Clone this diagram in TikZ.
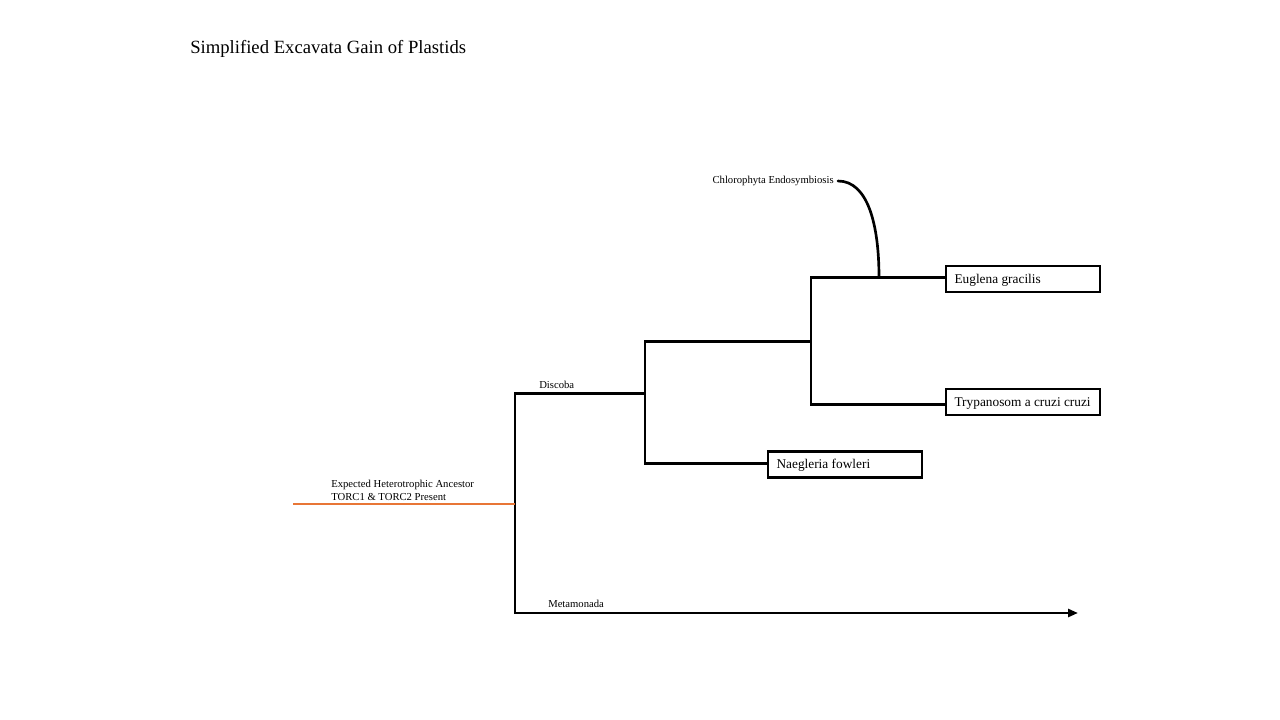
\documentclass[tikz,border=0pt]{standalone}
\usepackage{fontspec}
\setmainfont{Liberation Serif}
\usetikzlibrary{arrows.meta}
\definecolor{ancestor}{RGB}{232,118,54}
\tikzset{
  branch/.style={line width=2pt, line join=miter},
  taxon/.style={draw, line width=2pt, minimum width=115.5pt, minimum height=19.5pt, inner sep=0pt},
  taxonlabel/.style={font=\fontsize{10}{12}\selectfont, anchor=west, inner sep=0pt},
  small/.style={font=\fontsize{8}{9.75}\selectfont, inner sep=0pt},
}
\begin{document}
\begin{tikzpicture}[x=0.75pt,y=-0.75pt]
\useasboundingbox (0,0) rectangle (1280,720);
\node[font=\fontsize{14}{16}\selectfont, anchor=west, inner sep=0pt] (title) at (190,48.5) {Simplified Excavata Gain of Plastids};

% taxa boxes
\node[taxon] (eug) at (1023,279) {};
\node[taxon] (tryp) at (1023,402) {};
\node[taxon] (naeg) at (845,464.5) {};
\node[taxonlabel] (euglab) at ([xshift=7.2pt,yshift=-0.8pt]eug.west) {Euglena gracilis};
\node[taxonlabel] (tryplab) at ([xshift=7.2pt,yshift=-0.8pt]tryp.west) {Trypanosom a cruzi cruzi};
\node[taxonlabel] (naeglab) at ([xshift=7.2pt,yshift=-0.8pt]naeg.west) {Naegleria fowleri};

% junctions
\coordinate (o) at (293,504);
\coordinate (r) at (515,504);
\coordinate (rt) at (515,393.5);
\coordinate (rb) at (515,613);
\coordinate (metaend) at (1078,613);
\coordinate (d) at (645,393.5);
\coordinate (dt) at (645,341.5);
\coordinate (db) at (645,463.5);
\coordinate (c) at (811,341.5);
\coordinate (ct) at (811,277.5);
\coordinate (cb) at (811,404.5);
\coordinate (plastid) at (879,277.5);
\coordinate (chl) at (838,181);

% branches
\draw[branch, -{Triangle[length=7.5pt,width=6pt]}] (d) -- (rt) -- (rb) -- (metaend);
\draw[branch] (c) -- (dt) -- (db) -- (naeg.west |- db);
\draw[branch] (eug.west |- ct) -- (ct) -- (cb) -- (tryp.west |- cb);
\draw[line width=2.2pt, ancestor] (o) -- (r);
\draw[branch, line cap=round] (chl) .. controls (868,181) and (879,225) .. (plastid);

% labels
\node[small, anchor=east] (chllab) at (834,181) {Chlorophyta Endosymbiosis};
\node[small, anchor=west] (disclab) at (539,385) {Discoba};
\node[small, anchor=west] (metalab) at (548,604) {Metamonada};
\node[small, anchor=south west, align=left] (anclab) at (331,501) {Expected Heterotrophic Ancestor\\TORC1 \& TORC2 Present};
\end{tikzpicture}
\end{document}
